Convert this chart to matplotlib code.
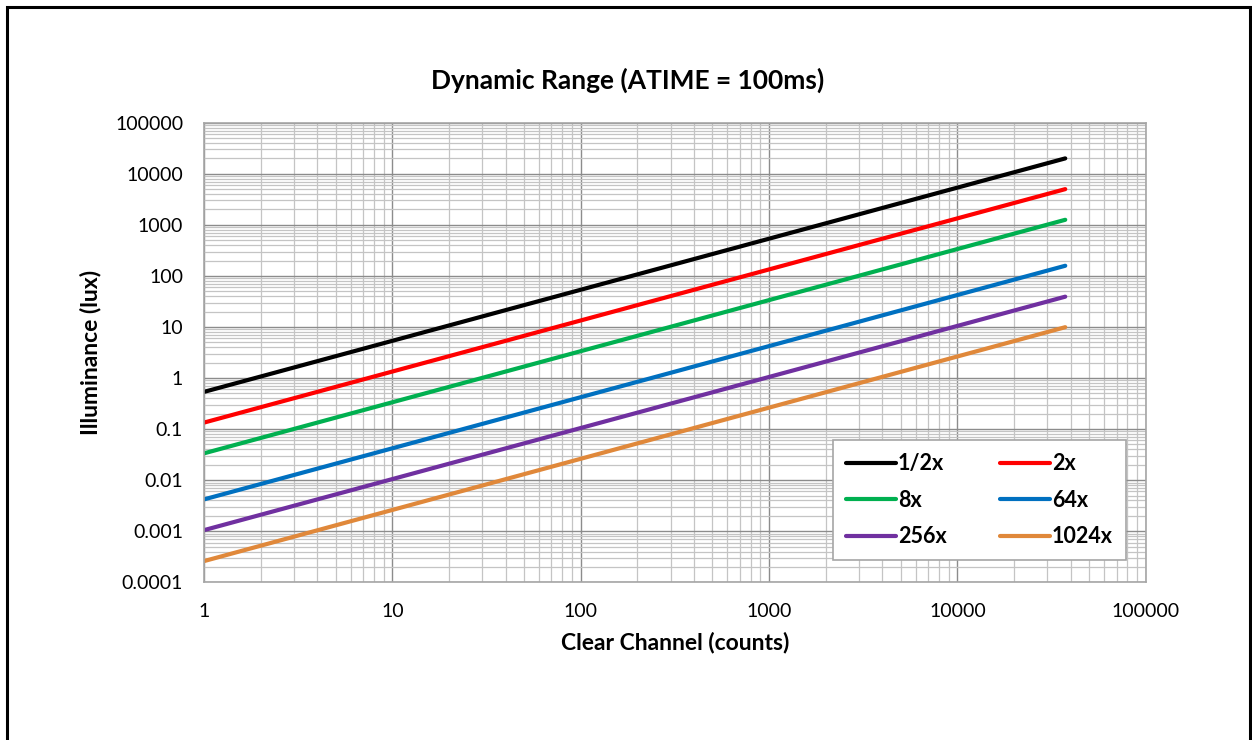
import matplotlib
matplotlib.use('Agg')
import matplotlib.pyplot as plt
import matplotlib.ticker as mticker
from matplotlib.patches import Rectangle

plt.rcParams['font.family'] = ['Lato', 'DejaVu Sans']

# データ（両端の読み取り値）
counts = [1, 37400]
gains = ['1/2x', '2x', '8x', '64x', '256x', '1024x']
lux_start = [0.535, 0.134, 0.0335, 0.0042, 0.00105, 0.00026]
lux_end = [20000, 5000, 1255, 158, 39.2, 9.9]
colors = ['#000000', '#FF0000', '#00B050', '#0070C0', '#7030A0', '#E0883A']

fig = plt.figure(figsize=(12.52, 7.40), dpi=100)
ax = fig.add_axes([0.1629, 0.2131, 0.7522, 0.6211])

lines = []
for g, s, e, c in zip(gains, lux_start, lux_end, colors):
    ln, = ax.plot(counts, [s, e], color=c, lw=3, label=g, solid_capstyle='round')
    lines.append(ln)

ax.set_xscale('log')
ax.set_yscale('log')
ax.set_xlim(1, 100000)
ax.set_ylim(0.0001, 100000)

fmt = mticker.FuncFormatter(lambda v, p: '%g' % v)
ax.xaxis.set_major_locator(mticker.LogLocator(base=10, numticks=20))
ax.yaxis.set_major_locator(mticker.LogLocator(base=10, numticks=20))
ax.xaxis.set_minor_locator(mticker.LogLocator(base=10, subs=range(2, 10), numticks=20))
ax.yaxis.set_minor_locator(mticker.LogLocator(base=10, subs=range(2, 10), numticks=20))
ax.xaxis.set_major_formatter(fmt)
ax.yaxis.set_major_formatter(fmt)
ax.xaxis.set_minor_formatter(mticker.NullFormatter())
ax.yaxis.set_minor_formatter(mticker.NullFormatter())

ax.grid(which='major', color='#8c8c8c', lw=1.0)
ax.grid(which='minor', color='#c4c4c4', lw=0.9)
ax.set_axisbelow(True)
ax.tick_params(which='both', length=0, labelsize=14)
ax.tick_params(axis='x', pad=15)
ax.tick_params(axis='y', pad=15)
for sp in ax.spines.values():
    sp.set_color('#a6a6a6')
    sp.set_linewidth(1.2)

fig.text(0.5012, 1 - 80 / 740, 'Dynamic Range (ATIME = 100ms)', fontsize=19,
         fontweight='bold', ha='center', va='center')
ax.set_xlabel('Clear Channel (counts)', fontsize=16.5, fontweight='bold', labelpad=8)
ax.set_ylabel('Illuminance (lux)', fontsize=16.5, fontweight='bold', labelpad=10)

# 行方向に並べる
order = [0, 2, 4, 1, 3, 5]
leg = ax.legend([lines[i] for i in order], [gains[i] for i in order],
                ncol=2, loc='lower right', bbox_to_anchor=(0.979, 0.0485),
                borderaxespad=0,
                fancybox=False, framealpha=1, edgecolor='#a6a6a6',
                prop={'weight': 'bold', 'size': 15.5}, handlelength=2.3,
                handletextpad=0.1, columnspacing=2.5, labelspacing=0.72,
                borderpad=0.6)
leg.get_frame().set_linewidth(1.2)

# 外枠
fig.patches.append(Rectangle((6.5 / 1252, -0.02), (1250 - 6.5) / 1252, 1 - 7 / 740 + 0.02,
                             transform=fig.transFigure, fill=False,
                             edgecolor='black', lw=2.2))

fig.savefig('out.png', dpi=100)
